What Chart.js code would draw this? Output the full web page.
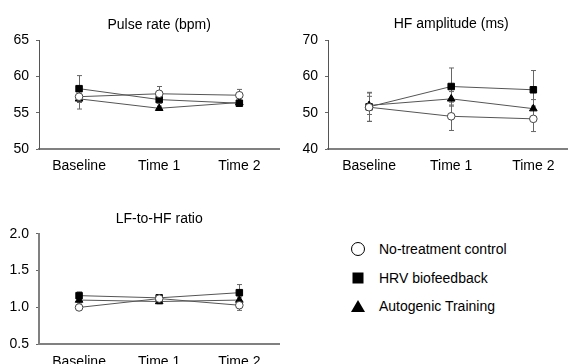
<!DOCTYPE html>
<html>
<head>
<meta charset="utf-8">
<script src="https://cdn.jsdelivr.net/npm/chart.js@4"></script>
<style>
  html, body { margin: 0; padding: 0; background: #fff; }
  body { width: 568px; height: 364px; overflow: hidden; position: relative;
         font-family: "Liberation Sans", Arial, sans-serif; }
  canvas { position: absolute; }
  #c-pulse { left: 0;     top: 0; }
  #c-hf    { left: 289px; top: 0; }
  #c-ratio { left: 0;     top: 182px; }
  .legend { position: absolute; left: 350px; top: 235px; }
  .legend-row { display: flex; align-items: center; height: 28.5px; font-size: 14px; color: #000; }
  .legend-row svg { width: 16px; height: 16px; margin-right: 13px; }
</style>
</head>
<body>
<canvas id="c-pulse" width="285" height="182"></canvas>
<canvas id="c-hf"    width="291" height="182"></canvas>
<canvas id="c-ratio" width="285" height="200"></canvas>

<div class="legend">
  <div class="legend-row">
    <svg viewBox="0 0 16 16"><circle cx="8" cy="8" r="6.5" fill="#fff" stroke="#000" stroke-width="1"/></svg>
    <span>No-treatment control</span>
  </div>
  <div class="legend-row">
    <svg viewBox="0 0 16 16"><rect x="2.5" y="2.5" width="11" height="11" fill="#000"/></svg>
    <span>HRV biofeedback</span>
  </div>
  <div class="legend-row">
    <svg viewBox="0 0 16 16"><polygon points="8,2 15,14 1,14" fill="#000"/></svg>
    <span>Autogenic Training</span>
  </div>
</div>

<script>
/* ── Data ── */
const timepoints = ["Baseline", "Time 1", "Time 2"];
const groups     = ["No-treatment control", "HRV biofeedback", "Autogenic Training"];

// Pulse rate (bpm)
const pulseControl    = [57.2, 57.6, 57.4];
const pulseControlErr = [0.8, 1.0, 0.8];
const pulseHrv        = [58.3, 56.8, 56.3];
const pulseHrvErr     = [1.8, 0.5, 0.3];
const pulseAt         = [56.9, 55.6, 56.4];
const pulseAtErr      = [1.4, 0.3, 0.3];

// HF amplitude (ms)
const hfControl    = [51.5, 49.0, 48.3];
const hfControlErr = [3.9, 3.9, 3.5];
const hfHrv        = [51.6, 57.2, 56.3];
const hfHrvErr     = [4.0, 5.1, 5.3];
const hfAt         = [52.0, 53.8, 51.1];
const hfAtErr      = [2.5, 2.0, 2.5];

// LF-to-HF ratio
const ratioControl    = [1.00, 1.12, 1.03];
const ratioControlErr = [0.03, 0.05, 0.07];
const ratioHrv        = [1.16, 1.13, 1.20];
const ratioHrvErr     = [0.05, 0.04, 0.11];
const ratioAt         = [1.10, 1.08, 1.10];
const ratioAtErr      = [0.04, 0.03, 0.04];


/* ── Styles ── */
const FONT      = { family: "'Liberation Sans', Arial, sans-serif", size: 14 };
const LINE_GRAY = "#555";
const AXIS_GRAY = "#808080";

const SERIES_STYLE = [
  { pointStyle: "circle",   pointRadius: 3.8, pointBackgroundColor: "#fff", pointBorderColor: "#444" },
  { pointStyle: "rect",     pointRadius: 4.6, pointBackgroundColor: "#000", pointBorderColor: "#000" },
  { pointStyle: "triangle", pointRadius: 4.4, pointBackgroundColor: "#000", pointBorderColor: "#000" },
];


/* ── Error bar plugin — drawn behind lines and markers ── */
const errorBars = {
  id: "errorBars",
  beforeDatasetsDraw(chart) {
    const { ctx } = chart;
    const yScale = chart.scales.y;
    ctx.save();
    ctx.strokeStyle = "#666";
    ctx.lineWidth = 1;
    chart.data.datasets.forEach((ds, i) => {
      const meta = chart.getDatasetMeta(i);
      ds.errors.forEach((err, j) => {
        const px  = Math.round(meta.data[j].x) + 0.5;
        const top = yScale.getPixelForValue(ds.data[j] + err);
        const bot = yScale.getPixelForValue(ds.data[j] - err);
        ctx.beginPath();
        ctx.moveTo(px, top); ctx.lineTo(px, bot);
        ctx.moveTo(px - 2.5, top); ctx.lineTo(px + 2.5, top);
        ctx.moveTo(px - 2.5, bot); ctx.lineTo(px + 2.5, bot);
        ctx.stroke();
      });
    });
    ctx.restore();
  },
};


/* ── Build one panel ── */
function makeDatasets(values, errors) {
  return values.map((data, i) => ({
    label: groups[i],
    data,
    errors: errors[i],
    borderColor: LINE_GRAY,
    borderWidth: 1,
    tension: 0,
    pointBorderWidth: 1,
    ...SERIES_STYLE[i],
  }));
}

function makePanel(id, cfg) {
  const ctx = document.getElementById(id).getContext("2d");
  return new Chart(ctx, {
    type: "line",
    data: { labels: timepoints, datasets: makeDatasets(cfg.values, cfg.errors) },
    plugins: [errorBars],
    options: {
      responsive: false,
      animation: false,
      layout: { padding: 0 },
      plugins: {
        legend:  { display: false },
        tooltip: { enabled: false },
        title: {
          display: true,
          text: cfg.title,
          fullSize: false,
          color: "#000",
          font: { ...FONT, weight: "normal" },
          padding: { top: cfg.titleTop, bottom: cfg.titleBottom },
        },
      },
      scales: {
        x: {
          offset: true,
          grid:   { display: false, drawTicks: false },
          border: { color: AXIS_GRAY, width: 2 },
          ticks:  { color: "#000", font: FONT, padding: 9, maxRotation: 0 },
          afterFit: s => { s.height = cfg.xHeight; },
        },
        y: {
          min: cfg.min,
          max: cfg.max,
          grid:   { drawOnChartArea: false, tickLength: 3, color: "#666" },
          border: { color: cfg.yAxisColor, width: cfg.yAxisWidth },
          ticks:  {
            stepSize: cfg.step,
            color: "#000",
            font: FONT,
            padding: 7,
            callback: v => cfg.decimals ? v.toFixed(cfg.decimals) : v,
          },
          afterFit: s => { s.width = 39; },
        },
      },
    },
  });
}


/* ── Init ── */
makePanel("c-pulse", {
  title: "Pulse rate (bpm)",
  values: [pulseControl, pulseHrv, pulseAt],
  errors: [pulseControlErr, pulseHrvErr, pulseAtErr],
  min: 50, max: 65, step: 5, decimals: 0,
  titleTop: 16.6, titleBottom: 6.6, xHeight: 33,
  yAxisColor: "#555", yAxisWidth: 1,
});

makePanel("c-hf", {
  title: "HF amplitude (ms)",
  values: [hfControl, hfHrv, hfAt],
  errors: [hfControlErr, hfHrvErr, hfAtErr],
  min: 40, max: 70, step: 10, decimals: 0,
  titleTop: 16, titleBottom: 7.2, xHeight: 33,
  yAxisColor: "#555", yAxisWidth: 1,
});

makePanel("c-ratio", {
  title: "LF-to-HF ratio",
  values: [ratioControl, ratioHrv, ratioAt],
  errors: [ratioControlErr, ratioHrvErr, ratioAtErr],
  min: 0.5, max: 2.0, step: 0.5, decimals: 1,
  titleTop: 29, titleBottom: 5.9, xHeight: 37.7,
  yAxisColor: AXIS_GRAY, yAxisWidth: 2,
});
</script>
</body>
</html>
